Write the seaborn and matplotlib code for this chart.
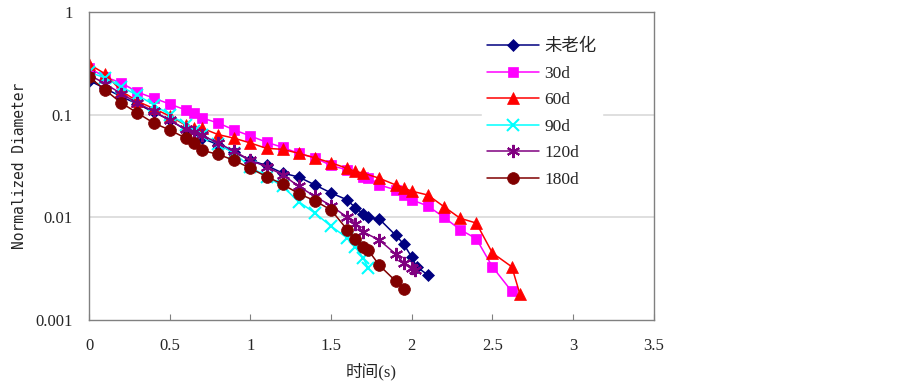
import pandas as pd
import matplotlib
matplotlib.use('Agg')
import matplotlib.pyplot as plt
import seaborn as sns
from matplotlib.ticker import FixedLocator, NullLocator

# series names (legend order)
series = ['未老化', '30d', '60d', '90d', '120d', '180d']

t_0 = [0, 0.1, 0.2, 0.3, 0.4, 0.5, 0.6, 0.7, 0.8, 0.9, 1.0, 1.1, 1.2, 1.3, 1.4,
       1.5, 1.6, 1.65, 1.7, 1.73, 1.8, 1.9, 1.95, 2.0, 2.03, 2.1]
d_0 = [0.215, 0.18, 0.15, 0.127, 0.106, 0.089, 0.071, 0.059, 0.051, 0.043, 0.036,
       0.032, 0.027, 0.0247, 0.0207, 0.0173, 0.0148, 0.0124, 0.0108, 0.0100, 0.0096,
       0.0067, 0.0055, 0.0041, 0.0033, 0.00275]

t_30 = [0, 0.1, 0.2, 0.3, 0.4, 0.5, 0.6, 0.65, 0.7, 0.8, 0.9, 1.0, 1.1, 1.2, 1.3,
        1.4, 1.5, 1.6, 1.7, 1.73, 1.8, 1.9, 1.95, 2.0, 2.1, 2.2, 2.3, 2.4, 2.5, 2.62]
d_30 = [0.285, 0.233, 0.204, 0.166, 0.145, 0.127, 0.111, 0.104, 0.093, 0.083, 0.071,
        0.062, 0.054, 0.048, 0.042, 0.038, 0.032, 0.029, 0.025, 0.024, 0.0207, 0.0185,
        0.0165, 0.0148, 0.0129, 0.0100, 0.0076, 0.0062, 0.0033, 0.0019]

t_60 = [0, 0.1, 0.2, 0.3, 0.4, 0.5, 0.6, 0.65, 0.7, 0.8, 0.9, 1.0, 1.1, 1.2, 1.3,
        1.4, 1.5, 1.6, 1.65, 1.7, 1.8, 1.9, 1.95, 2.0, 2.1, 2.2, 2.3, 2.4, 2.5, 2.62, 2.67]
d_60 = [0.31, 0.25, 0.17, 0.135, 0.115, 0.097, 0.079, 0.075, 0.074, 0.064, 0.059,
        0.053, 0.047, 0.046, 0.042, 0.038, 0.034, 0.030, 0.028, 0.027, 0.024, 0.0207,
        0.0194, 0.018, 0.0165, 0.0127, 0.0098, 0.0088, 0.0045, 0.0033, 0.0018]

t_90 = [0, 0.1, 0.2, 0.3, 0.4, 0.5, 0.6, 0.65, 0.7, 0.8, 0.9, 1.0, 1.1, 1.2, 1.3,
        1.4, 1.5, 1.6, 1.65, 1.7, 1.73]
d_90 = [0.26, 0.228, 0.186, 0.155, 0.125, 0.10, 0.08, 0.07, 0.063, 0.052, 0.042,
        0.031, 0.025, 0.020, 0.0142, 0.011, 0.0082, 0.0063, 0.0052, 0.004, 0.0032]

t_120 = [0, 0.1, 0.2, 0.3, 0.4, 0.5, 0.6, 0.65, 0.7, 0.8, 0.9, 1.0, 1.1, 1.2, 1.3,
         1.4, 1.5, 1.6, 1.65, 1.7, 1.8, 1.9, 1.95, 2.0, 2.02]
d_120 = [0.245, 0.2, 0.16, 0.13, 0.108, 0.088, 0.072, 0.068, 0.063, 0.053, 0.044,
         0.036, 0.031, 0.026, 0.020, 0.016, 0.013, 0.010, 0.0087, 0.0072, 0.006,
         0.0044, 0.0036, 0.0032, 0.0031]

t_180 = [0, 0.1, 0.2, 0.3, 0.4, 0.5, 0.6, 0.65, 0.7, 0.8, 0.9, 1.0, 1.1, 1.2, 1.3,
         1.4, 1.5, 1.6, 1.65, 1.7, 1.73, 1.8, 1.9, 1.95]
d_180 = [0.233, 0.174, 0.13, 0.104, 0.083, 0.071, 0.059, 0.053, 0.045, 0.041, 0.036,
         0.030, 0.025, 0.021, 0.017, 0.0145, 0.0118, 0.0076, 0.0062, 0.0052, 0.0048,
         0.0034, 0.0024, 0.002]

x_ticks = [0, 0.5, 1, 1.5, 2, 2.5, 3, 3.5]
x_labels = ['0', '0.5', '1', '1.5', '2', '2.5', '3', '3.5']
y_ticks = [0.001, 0.01, 0.1, 1]
y_labels = ['0.001', '0.01', '0.1', '1']

times = [t_0, t_30, t_60, t_90, t_120, t_180]
diams = [d_0, d_30, d_60, d_90, d_120, d_180]
df = pd.concat([pd.DataFrame({'t': t, 'd': d, 'group': name})
                for name, t, d in zip(series, times, diams)], ignore_index=True)

colors = dict(zip(series, ['#000080', '#FF00FF', '#FF0000', '#00FFFF', '#800080', '#800000']))
marks = dict(zip(series, ['D', 's', '^', 'x', (6, 2, 0), 'o']))
msize = {'未老化': 6.5, '30d': 7.5, '60d': 8.5, '90d': 8, '120d': 9.5, '180d': 8.5}

sns.set_style('white')
plt.rcParams['font.family'] = ['Liberation Serif', 'Noto Sans CJK SC', 'DejaVu Sans']

fig = plt.figure(figsize=(9.03, 3.87), dpi=100)
ax = fig.add_axes([0.0986, 0.173, 0.6254, 0.796])

for name in series:
    sub = df[df['group'] == name]
    sns.lineplot(x='t', y='d', data=sub, ax=ax, color=colors[name], marker=marks[name],
                 markersize=msize[name], markeredgecolor=colors[name],
                 markeredgewidth=1.5 if name in ('90d', '120d') else 0.5,
                 linewidth=1.1, label=name, sort=False)

ax.set_yscale('log')
ax.set_xlim(0, 3.5)
ax.set_ylim(0.001, 1)
ax.xaxis.set_major_locator(FixedLocator(x_ticks))
ax.set_xticklabels(x_labels, fontsize=12)
ax.yaxis.set_major_locator(FixedLocator(y_ticks))
ax.yaxis.set_minor_locator(NullLocator())
ax.set_yticklabels(y_labels, fontsize=12)
ax.tick_params(axis='x', direction='in', length=4, width=0.8, color='#808080', pad=13, bottom=True)
ax.tick_params(axis='y', length=0, pad=12)

for y in [0.01, 0.1]:
    ax.axhline(y, color='#d9d9d9', linewidth=1.2, zorder=0)

for s in ax.spines.values():
    s.set_color('#808080')
    s.set_linewidth(1.0)

ax.set_xlabel('时间(s)', fontsize=12, labelpad=6)
ax.set_ylabel('Normalized Diameter', fontsize=10.5, family='DejaVu Sans Mono', labelpad=6)

leg = ax.legend(loc='upper left', bbox_to_anchor=(0.68, 0.958), frameon=True, fontsize=12.5,
                handlelength=3.0, labelspacing=0.6, borderpad=0.3, handletextpad=0.3)
leg.get_frame().set_edgecolor('white')
leg.get_frame().set_facecolor('white')
leg.get_frame().set_alpha(1.0)

plt.savefig('out.png', dpi=100)
